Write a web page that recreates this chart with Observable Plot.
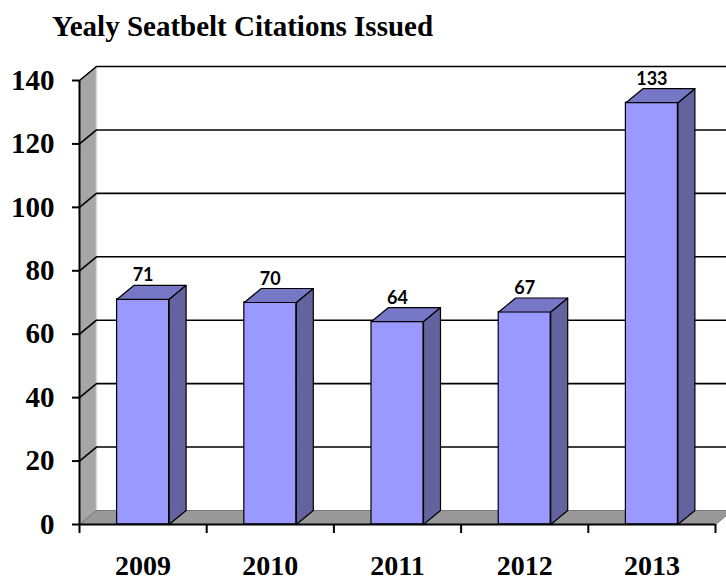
<!DOCTYPE html>
<html><head><meta charset="utf-8">
<script src="https://cdn.jsdelivr.net/npm/d3@7"></script>
<script src="https://cdn.jsdelivr.net/npm/@observablehq/plot@0.6"></script>
<style>
body{margin:0;background:#fff;}
#wrap{position:relative;width:726px;height:582px;overflow:hidden;}
#title{height:50px;position:relative;}
#title span{position:absolute;left:52px;top:12px;font:bold 29px "Liberation Serif","Times New Roman",serif;line-height:29px;white-space:nowrap;color:#000;}
</style></head><body>
<div id="wrap">
<div id="title"><span>Yealy Seatbelt Citations Issued</span></div>
<div id="chart"></div>
</div>
<script>
// ---- data ----
const years = ["2009", "2010", "2011", "2012", "2013"];
const citations = [71, 70, 64, 67, 133];
const yTicks = [0, 20, 40, 60, 80, 100, 120, 140];

// ---- style constants ----
const W = 726, H = 532;
const mL = 79, mR = 11, mT = 30, mB = 58;
const xMin = 0.5, xMax = years.length + 0.5;
const yMax = d3.max(yTicks);
const pxPerX = (W - mL - mR) / (xMax - xMin);
const pxPerY = (H - mT - mB) / yMax;
const DX = 17 / pxPerX;   // depth offset (x units)
const DY = 14 / pxPerY;   // depth offset (y units)
const HW = 26 / pxPerX;   // half bar width

const data = years.map((y, i) => ({year: y, i: i + 1, value: citations[i]}));

const sideWall = [[xMin,0],[xMin,yMax],[xMin+DX,yMax+DY],[xMin+DX,DY],[xMin,0]].map(([x,y]) => ({x,y}));
const floor = [[xMin,0],[xMin+DX,DY],[xMax+DX,DY],[xMax,0],[xMin,0]].map(([x,y]) => ({x,y}));
const grid = yTicks.filter(v => v > 0).flatMap(v => [
  {v, x: xMin, y: v}, {v, x: xMin + DX, y: v + DY}, {v, x: xMax + DX + 0.2, y: v + DY}
]);
const tops = data.flatMap(d => [
  [d.i-HW, d.value],[d.i+HW, d.value],[d.i+HW+DX, d.value+DY],[d.i-HW+DX, d.value+DY],[d.i-HW, d.value]
].map(([x,y]) => ({id: d.year, x, y})));
const sides = data.flatMap(d => [
  [d.i+HW, 0],[d.i+HW, d.value],[d.i+HW+DX, d.value+DY],[d.i+HW+DX, DY],[d.i+HW, 0]
].map(([x,y]) => ({id: d.year, x, y})));

const chart = Plot.plot({
  width: W, height: H,
  marginLeft: mL, marginRight: mR, marginTop: mT, marginBottom: mB,
  style: {fontFamily: "'Liberation Serif', 'Times New Roman', serif", fontWeight: "bold", fontSize: "28px", color: "#000", background: "#fff"},
  x: {type: "linear", domain: [xMin, xMax], axis: null},
  y: {type: "linear", domain: [0, yMax], axis: null},
  marks: [
    Plot.line(sideWall, {x: "x", y: "y", fill: "#a6a6a6", stroke: "#8a8a8a", strokeWidth: 1}),
    Plot.line(floor, {x: "x", y: "y", fill: "#999999", stroke: "#777", strokeWidth: 1}),
    Plot.ruleX([xMin + DX], {y1: DY, y2: yMax + DY, stroke: "#d8d8d8", strokeWidth: 1.5}),
    Plot.line(grid, {x: "x", y: "y", z: "v", stroke: "#000", strokeWidth: 1.6}),
    Plot.line(sides, {x: "x", y: "y", z: "id", fill: "#63639f", stroke: "#000", strokeWidth: 1.2}),
    Plot.rect(data, {x1: d => d.i - HW, x2: d => d.i + HW, y1: 0, y2: "value", fill: "#9999ff", stroke: "#000", strokeWidth: 1.2}),
    Plot.line(tops, {x: "x", y: "y", z: "id", fill: "#7777c8", stroke: "#000", strokeWidth: 1.2}),
    Plot.ruleX([xMin], {y1: 0, y2: yMax, stroke: "#000", strokeWidth: 2}),
    Plot.ruleY([0], {x1: xMin, x2: xMax, stroke: "#000", strokeWidth: 2}),
    Plot.axisY({ticks: yTicks, tickSize: 7, tickPadding: 18, strokeWidth: 2, fontSize: 29, fontWeight: "bold", tickFormat: d => String(d)}),
    Plot.axisX({ticks: d3.range(xMin, xMax + 0.01, 1), tickSize: 9, strokeWidth: 2, tickFormat: () => ""}),
    Plot.axisX({ticks: data.map(d => d.i), tickSize: 0, tickPadding: 31, fontSize: 28, fontWeight: "bold", tickFormat: i => years[i - 1]}),
    Plot.text(data, {x: "i", y: d => d.value + DY, text: d => String(d.value), dy: -4, lineAnchor: "bottom", fontFamily: "Lato, 'Open Sans', sans-serif", fontWeight: "bold", fontSize: 18, fill: "#000"})
  ]
});
document.getElementById("chart").appendChild(chart);
</script>
</body></html>
